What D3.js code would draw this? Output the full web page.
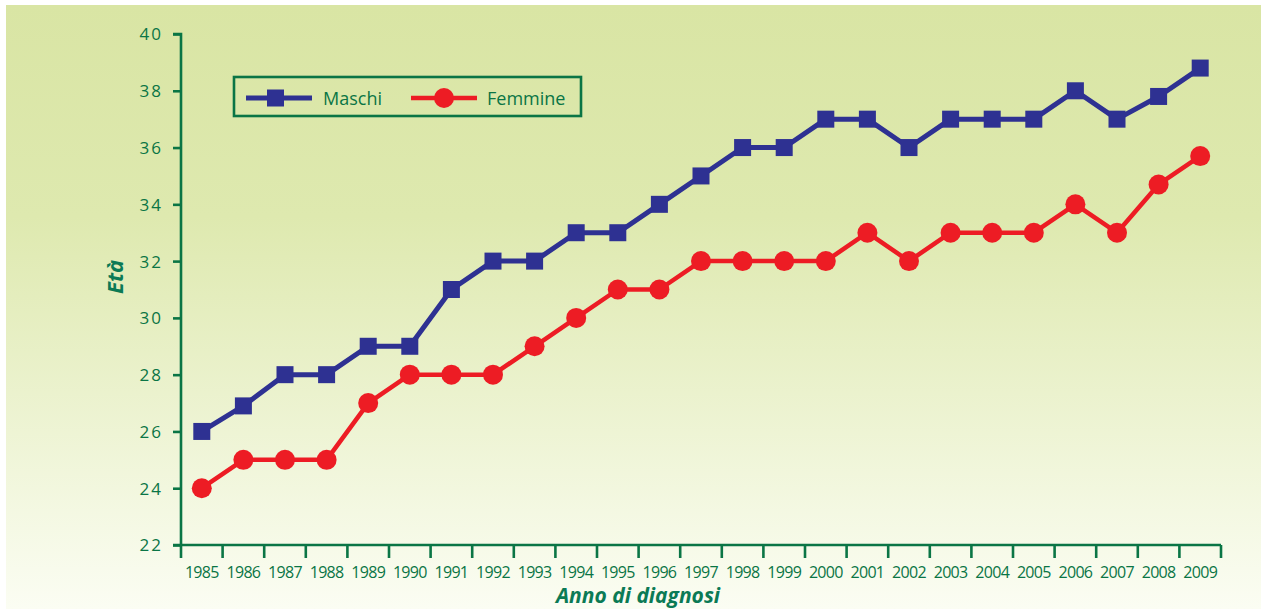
<!DOCTYPE html>
<html>
<head>
<meta charset="utf-8">
<script src="https://cdn.jsdelivr.net/npm/d3@7"></script>
<style>
  body { margin: 0; background: #fff; }
  svg { display: block; }
</style>
</head>
<body>
<script>
// anni di diagnosi
var years = ["1985","1986","1987","1988","1989","1990","1991","1992","1993","1994","1995","1996","1997",
  "1998","1999","2000","2001","2002","2003","2004","2005","2006","2007","2008","2009"];
// età mediana maschi / femmine
var maschi = [26, 26.9, 28, 28, 29, 29, 31, 32, 32, 33, 33, 34, 35, 36, 36, 37, 37, 36, 37, 37, 37, 38, 37, 37.8, 38.8];
var femmine = [24, 25, 25, 25, 27, 28, 28, 28, 29, 30, 31, 31, 32, 32, 32, 32, 33, 32, 33, 33, 33, 34, 33, 34.7, 35.7];
var yTicks = [22, 24, 26, 28, 30, 32, 34, 36, 38, 40];

var W = 1261, H = 609;
var margin = { top: 34, right: 40, bottom: 64, left: 181 };
var width = W - margin.left - margin.right;
var height = H - margin.top - margin.bottom;

var green = "#0a7545";
var blue = "#2e3192";
var red = "#ed1c24";

var svg = d3.select("body").append("svg").attr("width", W).attr("height", H);

var defs = svg.append("defs");
var grad = defs.append("linearGradient").attr("id", "bg").attr("x1", 0).attr("y1", 0).attr("x2", 0).attr("y2", 1);
grad.append("stop").attr("offset", "0%").attr("stop-color", "#d9e5a4");
grad.append("stop").attr("offset", "35%").attr("stop-color", "#dee9af");
grad.append("stop").attr("offset", "100%").attr("stop-color", "#fbfdf3");

svg.append("rect").attr("x", 6).attr("y", 5).attr("width", W - 6).attr("height", H - 5).attr("fill", "url(#bg)");

var g = svg.append("g").attr("transform", "translate(" + margin.left + "," + margin.top + ")");

var x = d3.scaleBand().domain(years).range([0, width]);
var y = d3.scaleLinear().domain([22, 40]).range([height, 0]);

// asse y
var yAxis = g.append("g").call(d3.axisLeft(y).tickValues(yTicks).tickSize(8).tickPadding(10).tickFormat(d3.format("d")));
yAxis.select(".domain").attr("stroke", green).attr("stroke-width", 2.6).attr("d", "M0," + height + "V0H-8");
yAxis.selectAll(".tick line").attr("stroke", green).attr("stroke-width", 2.6);
yAxis.selectAll(".tick text").attr("fill", green).style("font-family", "'Open Sans', sans-serif")
  .style("font-size", "17px").style("letter-spacing", "2px").attr("dy", "0.35em");

// asse x: tick ai bordi delle bande
var xAxisG = g.append("g").attr("transform", "translate(0," + height + ")");
xAxisG.append("line").attr("x1", -8).attr("x2", width).attr("stroke", green).attr("stroke-width", 2.6);
var edges = years.map(function (d) { return x(d); }).concat([width]);
xAxisG.selectAll("line.tk").data(edges).enter().append("line").attr("class", "tk")
  .attr("x1", function (d) { return d; }).attr("x2", function (d) { return d; })
  .attr("y1", 0).attr("y2", 13).attr("stroke", green).attr("stroke-width", 2.6);
xAxisG.selectAll("text").data(years).enter().append("text")
  .attr("x", function (d) { return x(d) + x.bandwidth() / 2; })
  .attr("y", 33).attr("text-anchor", "middle").attr("fill", green)
  .style("font-family", "'Open Sans', sans-serif").style("font-size", "16px").style("letter-spacing", "-0.7px")
  .text(function (d) { return d; });

// titoli assi
svg.append("text").attr("x", 638).attr("y", 603).attr("text-anchor", "middle").attr("fill", "#0b7a55")
  .style("font-family", "'Open Sans', sans-serif").style("font-size", "21px").style("font-weight", "bold").style("font-style", "italic")
  .text("Anno di diagnosi");
svg.append("text").attr("transform", "translate(123,277) rotate(-90)").attr("text-anchor", "middle").attr("fill", "#0b7a55")
  .style("font-family", "'Open Sans', sans-serif").style("font-size", "22px").style("font-weight", "bold").style("font-style", "italic")
  .text("Età");

var cx = function (d, i) { return x(years[i]) + x.bandwidth() / 2; };
var line = d3.line().x(cx).y(function (d) { return y(d); });

// maschi
g.append("path").datum(maschi).attr("d", line).attr("fill", "none").attr("stroke", blue).attr("stroke-width", 5).attr("stroke-linejoin", "round");
g.selectAll("rect.m").data(maschi).enter().append("rect").attr("class", "m")
  .attr("x", function (d, i) { return cx(d, i) - 8.5; }).attr("y", function (d) { return y(d) - 8.5; })
  .attr("width", 17).attr("height", 17).attr("fill", blue);

// femmine
g.append("path").datum(femmine).attr("d", line).attr("fill", "none").attr("stroke", red).attr("stroke-width", 4.5).attr("stroke-linejoin", "round");
g.selectAll("circle.f").data(femmine).enter().append("circle").attr("class", "f")
  .attr("cx", cx).attr("cy", function (d) { return y(d); }).attr("r", 10).attr("fill", red);

// legenda
var lg = svg.append("g").attr("transform", "translate(234,77)");
lg.append("rect").attr("width", 347).attr("height", 39).attr("fill", "none").attr("stroke", green).attr("stroke-width", 2.6);
lg.append("line").attr("x1", 12).attr("x2", 78).attr("y1", 21).attr("y2", 21).attr("stroke", blue).attr("stroke-width", 5);
lg.append("rect").attr("x", 33).attr("y", 12.5).attr("width", 17).attr("height", 17).attr("fill", blue);
lg.append("text").attr("x", 89).attr("y", 28).attr("fill", green).style("font-family", "'Open Sans', sans-serif").style("font-size", "18px").text("Maschi");
lg.append("line").attr("x1", 177).attr("x2", 243).attr("y1", 21).attr("y2", 21).attr("stroke", red).attr("stroke-width", 4.5);
lg.append("circle").attr("cx", 210).attr("cy", 21).attr("r", 10).attr("fill", red);
lg.append("text").attr("x", 253).attr("y", 28).attr("fill", green).style("font-family", "'Open Sans', sans-serif").style("font-size", "18px").text("Femmine");
</script>
</body>
</html>
